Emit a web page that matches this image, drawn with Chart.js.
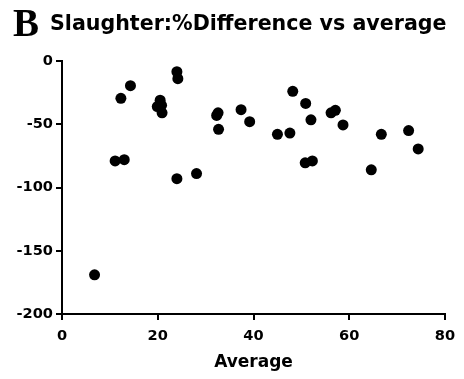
<!DOCTYPE html>
<html>
<head>
<meta charset="utf-8">
<script src="https://cdn.jsdelivr.net/npm/chart.js@4/dist/chart.umd.min.js"></script>
<style>
  html, body { margin: 0; padding: 0; background: #fff; }
  #wrap { width: 464px; height: 379px; }
</style>
</head>
<body>
<div id="wrap"><canvas id="chart" width="464" height="379"></canvas></div>
<script>
// average of the two measurements (x) and % difference (y)
var averages = [6.8, 11.1, 13.0, 12.3, 14.3, 19.9, 20.5, 20.8, 20.9, 24.0, 24.2, 24.0,
                28.1, 32.6, 32.3, 32.7, 37.4, 39.2, 45.0, 47.6, 48.2, 50.9, 52.0, 50.8,
                52.3, 56.2, 57.1, 58.7, 64.6, 66.7, 72.4, 74.4];
var pctDiffs = [-169, -79, -78, -29.5, -19.5, -36, -31, -35, -41, -8.5, -14, -93,
                -89, -41, -43, -54, -38.5, -48, -58, -57, -24, -33.5, -46.5, -80.5,
                -79, -41, -39, -50.5, -86, -58, -55, -69.5];
var xTicks = [0, 20, 40, 60, 80];
var yTicks = [0, -50, -100, -150, -200];
var panelLetter = 'B';
var titleText = 'Slaughter:%Difference vs average';
var xTitle = 'Average';

var points = [];
for (var i = 0; i < averages.length; i++) {
    points.push({ x: averages[i], y: pctDiffs[i] });
}

var sans = '"DejaVu Sans", Arial, sans-serif';

// panel letter + heading drawn above the plot
var headingPlugin = {
    id: 'heading',
    afterDraw: function(chart) {
        var ctx = chart.ctx;
        ctx.save();
        ctx.fillStyle = '#000';
        ctx.textBaseline = 'alphabetic';
        ctx.textAlign = 'left';
        ctx.font = 'bold 39px "Liberation Serif", "Times New Roman", serif';
        ctx.fillText(panelLetter, 13, 36);
        ctx.font = 'bold 20.6px ' + sans;
        ctx.fillText(titleText, 50, 30);
        ctx.restore();
    }
};

var axisStyle = {
    border: { display: true, color: '#000', width: 2 },
    grid: { display: true, drawOnChartArea: false, drawTicks: true, tickLength: 6, color: '#000', lineWidth: 2 }
};

new Chart(document.getElementById('chart').getContext('2d'), {
    type: 'scatter',
    data: {
        datasets: [{
            data: points,
            backgroundColor: '#000',
            borderColor: '#000',
            pointRadius: 5.5,
            pointHoverRadius: 5.5,
            borderWidth: 0
        }]
    },
    plugins: [headingPlugin],
    options: {
        responsive: false,
        animation: false,
        layout: { padding: { left: 0, top: 61, right: 19, bottom: 0 } },
        plugins: {
            legend: { display: false },
            tooltip: { enabled: false }
        },
        scales: {
            x: {
                type: 'linear',
                min: 0,
                max: 80,
                border: axisStyle.border,
                grid: axisStyle.grid,
                afterBuildTicks: function(scale) {
                    scale.ticks = xTicks.map(function(v) { return { value: v }; });
                },
                afterFit: function(scale) { scale.height = 65; },
                ticks: {
                    color: '#000',
                    padding: 7,
                    maxRotation: 0,
                    font: { family: sans, size: 14.6, weight: 'bold' }
                },
                title: {
                    display: true,
                    text: xTitle,
                    color: '#000',
                    padding: { top: 2, bottom: 6 },
                    font: { family: sans, size: 17, weight: 'bold' }
                }
            },
            y: {
                type: 'linear',
                min: -200,
                max: 0,
                border: axisStyle.border,
                grid: axisStyle.grid,
                afterBuildTicks: function(scale) {
                    scale.ticks = yTicks.map(function(v) { return { value: v }; });
                },
                afterFit: function(scale) { scale.width = 62; },
                ticks: {
                    color: '#000',
                    padding: 3,
                    font: { family: sans, size: 14.6, weight: 'bold' }
                }
            }
        }
    }
});
</script>
</body>
</html>
